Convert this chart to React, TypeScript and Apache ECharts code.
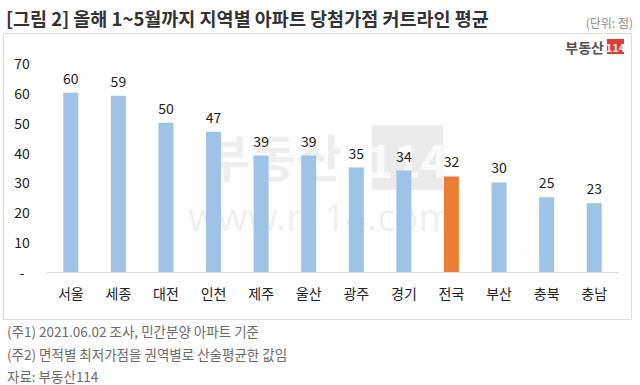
import React, { useEffect, useRef } from "react";
import * as echarts from "echarts";

const categories = ["서울", "세종", "대전", "인천", "제주", "울산", "광주", "경기", "전국", "부산", "충북", "충남"];
const values = [60, 59, 50, 47, 39, 39, 35, 34, 32, 30, 25, 23];
const highlightCategory = "전국";
const yTicks = { min: 0, max: 70, interval: 10 };

const titleText = "[그림 2] 올해 1~5월까지 지역별 아파트 당첨가점 커트라인 평균";
const unitText = "(단위: 점)";
const notes = [
  "(주1) 2021.06.02 조사, 민간분양 아파트 기준",
  "(주2) 면적별 최저가점을 권역별로 산술평균한 값임",
  "자료: 부동산114",
];

const FONT = "'Noto Sans CJK KR', 'Noto Sans', sans-serif";
const BLUE = "#9DC3E6";
const ORANGE = "#ED7D31";

export default function App() {
  const ref = useRef<HTMLDivElement>(null);

  useEffect(() => {
    if (!ref.current) return;
    const chart = echarts.init(ref.current, undefined, { renderer: "svg" });

    const data = values.map((v, i) => ({
      value: v,
      itemStyle: { color: categories[i] === highlightCategory ? ORANGE : BLUE },
    }));

    const option: any = {
      animation: false,
      backgroundColor: "#ffffff",
      textStyle: { fontFamily: FONT },
      grid: { left: 47, right: 22, top: 63, bottom: 113, containLabel: false },
      xAxis: {
        type: "category",
        data: categories,
        axisLine: { show: true, lineStyle: { color: "#d9d9d9", width: 1 } },
        axisTick: { show: false },
        axisLabel: { color: "#222", fontSize: 14, margin: 14, fontFamily: FONT },
      },
      yAxis: {
        type: "value",
        min: yTicks.min,
        max: yTicks.max,
        interval: yTicks.interval,
        splitLine: { show: false },
        axisLine: { show: false },
        axisTick: { show: false },
        axisLabel: {
          color: "#222",
          fontSize: 14,
          margin: 25,
          align: "center",
          fontFamily: FONT,
          formatter: (v: number) => (v === 0 ? "-" : String(v)),
        },
      },
      series: [
        {
          type: "bar",
          data,
          barWidth: 15,
          z: 5,
          label: {
            show: true,
            position: "top",
            distance: 8,
            color: "#222",
            fontSize: 14,
            fontFamily: FONT,
          },
        },
      ],
      graphic: [
        {
          type: "rect",
          z: -10,
          silent: true,
          shape: { x: 3.5, y: 33.5, width: 628, height: 286 },
          style: { fill: "none", stroke: "#dcdcdc", lineWidth: 1 },
        },
        {
          type: "text",
          x: 6,
          y: 17.5,
          style: {
            text: titleText,
            font: `bold 18.5px ${FONT}`,
            fill: "#333",
            textVerticalAlign: "middle",
          },
        },
        {
          type: "text",
          x: 633,
          y: 22,
          style: {
            text: unitText,
            font: `12px ${FONT}`,
            fill: "#8a8a8a",
            textAlign: "right",
            textVerticalAlign: "middle",
          },
        },
        // logo top-right
        {
          type: "text",
          x: 604,
          y: 47,
          style: {
            text: "부동산",
            font: `bold 14px ${FONT}`,
            fill: "#555",
            textAlign: "right",
            textVerticalAlign: "middle",
          },
        },
        {
          type: "rect",
          shape: { x: 607, y: 39, width: 17, height: 15 },
          style: { fill: "#e63a2e" },
        },
        {
          type: "text",
          x: 615.5,
          y: 46.5,
          style: {
            text: "114",
            font: `bold 11px 'Liberation Sans Narrow', ${FONT}`,
            fill: "#fff",
            textAlign: "center",
            textVerticalAlign: "middle",
          },
        },
        // watermark
        {
          type: "group",
          z: -5,
          silent: true,
          children: [
            {
              type: "text",
              x: 273,
              y: 155,
              style: {
                text: "부동산",
                font: `bold 50px ${FONT}`,
                fill: "#000",
                opacity: 0.065,
                textAlign: "center",
                textVerticalAlign: "middle",
              },
            },
            {
              type: "rect",
              shape: { x: 372, y: 125, width: 71, height: 65 },
              style: { fill: "#000", opacity: 0.08 },
            },
            {
              type: "text",
              x: 407,
              y: 158,
              style: {
                text: "114",
                font: `bold 46px 'Liberation Sans Narrow', ${FONT}`,
                fill: "#fff",
                opacity: 0.8,
                textAlign: "center",
                textVerticalAlign: "middle",
              },
            },
            {
              type: "text",
              x: 321,
              y: 216,
              style: {
                text: "www.r114.com",
                font: `38px 'Noto Sans', ${FONT}`,
                fill: "#000",
                opacity: 0.065,
                textAlign: "center",
                textVerticalAlign: "middle",
              },
            },
          ],
        },
        ...notes.map((t, i) => ({
          type: "text",
          x: 7,
          y: 331 + i * 22.5,
          style: {
            text: t,
            font: `13.5px ${FONT}`,
            fill: "#6b6b6b",
            textVerticalAlign: "middle",
          },
        })),
      ],
    };

    chart.setOption(option);
    return () => chart.dispose();
  }, []);

  return (
    <div
      ref={ref}
      style={{ position: "absolute", left: 0, top: 0, width: 640, height: 385 }}
    />
  );
}
